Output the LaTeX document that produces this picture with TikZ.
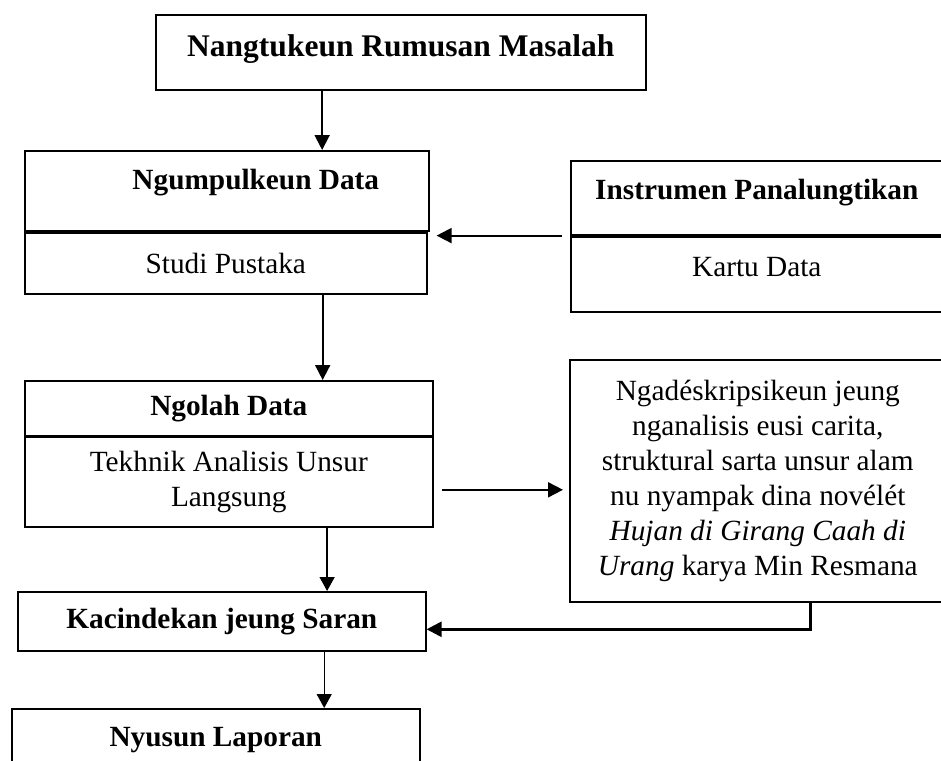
\documentclass[tikz,border=0pt]{standalone}
\usepackage{fontspec}
\setmainfont{Liberation Serif}
\usetikzlibrary{positioning,arrows.meta,calc}

\begin{document}
\begin{tikzpicture}[x=1pt, y=-1pt,
    every node/.style={font=\fontsize{29.3}{35}\selectfont},
    box/.style={draw, line width=1.6pt, anchor=north west, inner sep=0pt},
    bold/.style={font=\fontsize{29.3}{35}\selectfont\bfseries},
    arr/.style={-{Triangle[length=15pt,width=15pt]}, line width=1.9pt},
    arrthin/.style={-{Triangle[length=14pt,width=15pt]}, line width=1.3pt}]

    \useasboundingbox (0,0) rectangle (941,760);
    \clip (0,0) rectangle (941,760);

    % ═══════════════════════════════════════════════════════════════════════════
    % KOLOM KENCA
    % ═══════════════════════════════════════════════════════════════════════════

    \node[box, minimum width=490pt, minimum height=75pt, text depth=14pt,
          font=\fontsize{31.5}{38}\selectfont\bfseries] (rumusan) at (155,14) {Nangtukeun Rumusan Masalah};

    \node[box, bold, minimum width=404pt, minimum height=80pt, text depth=22pt] (ngumpul) at (24,150) {\hspace*{58pt}Ngumpulkeun Data};
    \node[box, minimum width=402pt, minimum height=61pt] (studi) at (24,232) {Studi Pustaka};

    \node[box, bold, minimum width=408pt, minimum height=55pt] (ngolah) at (24,380) {Ngolah Data};
    \node[box, minimum width=408pt, minimum height=90pt, align=center] (tekhnik) at (24,436) {Tekhnik Analisis Unsur\\Langsung};

    \node[box, bold, minimum width=408pt, minimum height=59pt] (kacindekan) at (17,591) {Kacindekan jeung Saran};

    \node[box, bold, minimum width=408pt, minimum height=62pt] (nyusun) at (11,708) {Nyusun Laporan};

    % ═══════════════════════════════════════════════════════════════════════════
    % KOLOM KATUHU
    % ═══════════════════════════════════════════════════════════════════════════

    \node[box, bold, minimum width=372pt, minimum height=74pt, text depth=16pt] (instrumen) at (570,160) {Instrumen Panalungtikan};
    \node[box, minimum width=372pt, minimum height=75pt, text depth=14pt] (kartu) at (570,236) {Kartu Data};

    \node[box, minimum width=376pt, minimum height=242pt, align=center] (deskripsi) at (569,359) {%
        Ngadéskripsikeun jeung\\
        nganalisis eusi carita,\\
        struktural sarta unsur alam\\
        nu nyampak dina novélét\\
        \textit{Hujan di Girang Caah di}\\
        \textit{Urang} karya Min Resmana};

    % ═══════════════════════════════════════════════════════════════════════════
    % PANAH
    % ═══════════════════════════════════════════════════════════════════════════

    \draw[arr] ($(rumusan.south west)!.34!(rumusan.south east)$) coordinate (r1) -- (r1 |- ngumpul.north);
    \draw[arr, shorten <=8pt, shorten >=9pt] (instrumen.south west) -- (instrumen.south west -| studi.north east);
    \draw[arr] ($(studi.south west)!.74!(studi.south east)$) coordinate (s1) -- (s1 |- ngolah.north);
    \draw[arr, shorten <=8pt, shorten >=6pt] ([yshift=-8pt]tekhnik.east) -- ([yshift=-8pt]tekhnik.east -| deskripsi.west);
    \draw[arrthin] ($(tekhnik.south west)!.74!(tekhnik.south east)$) coordinate (t1) -- (t1 |- kacindekan.north);
    \draw[arr, line width=2.6pt] ($(deskripsi.south west)!.64!(deskripsi.south east)$) |- ([yshift=-8pt]kacindekan.east);
    \draw[arrthin] ($(kacindekan.south west)!.75!(kacindekan.south east)$) coordinate (k1) -- (k1 |- nyusun.north);

\end{tikzpicture}
\end{document}
